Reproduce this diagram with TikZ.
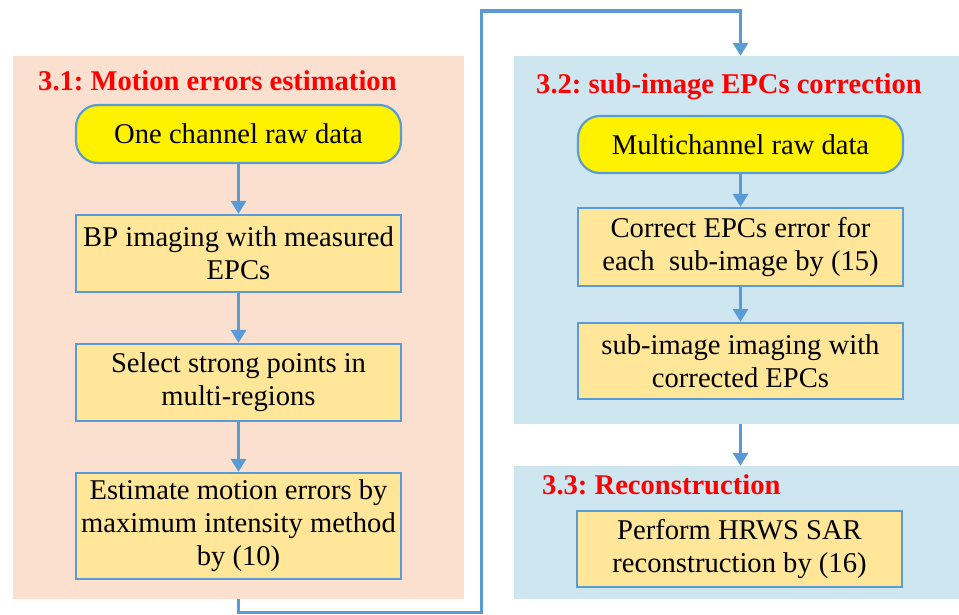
\documentclass[tikz,border=0pt]{standalone}
\usepackage{fontspec}
\setmainfont{Liberation Serif}[Ligatures=TeX]
\newfontfamily\tnr{Liberation Serif}
\usetikzlibrary{arrows.meta,fit,backgrounds}
\definecolor{peach}{HTML}{FBE0CF}
\definecolor{lblue}{HTML}{CDE6F0}
\definecolor{boxfill}{HTML}{FFE699}
\definecolor{edgeblue}{HTML}{5B9BD5}
\definecolor{titlered}{HTML}{FF0000}
\frenchspacing
\begin{document}
\begin{tikzpicture}[x=1pt,y=-1pt,
  font=\tnr\fontsize{28.6}{33}\selectfont,
  proc/.style={draw=edgeblue, line width=2.2pt, fill=boxfill, minimum width=325pt, align=center, inner sep=0pt},
  term/.style={draw=edgeblue, line width=2.2pt, fill=yellow, rounded corners=22pt, minimum width=325pt, inner sep=0pt},
  panel/.style={inner sep=0pt, draw=none},
  ttl/.style={text=titlered, font=\tnr\fontsize{28.6}{33}\selectfont\bfseries, anchor=base west, inner sep=0pt},
  flow/.style={draw=edgeblue, line width=3.5pt, -{Triangle[width=15pt,length=13pt]}}]
\useasboundingbox (0,0) rectangle (959,614);

% panels
\node[panel, fill=peach, fit={(12.5,56) (464,599)}] (P1) {};
\node[panel, fill=lblue, fit={(514,56) (959,424)}] (P2) {};
\node[panel, fill=lblue, fit={(514,466) (959,599)}] (P3) {};

% titles
\node[ttl] (T1) at (38,90) {3.1: Motion errors estimation};
\node[ttl] (T2) at (536,93) {3.2: sub-image EPCs correction};
\node[ttl] (T3) at (542,494) {3.3: Reconstruction};

% left column
\node[term, minimum height=58pt] (Y1) at (238.5,134) {One channel raw data};
\node[proc, minimum height=77pt] (B2) at (238.5,253.5) {BP imaging with measured\\EPCs};
\node[proc, minimum height=77pt] (B3) at (238.5,382.5) {Select strong points in\\multi-regions};
\node[proc, minimum height=106pt] (B4) at (238.5,526) {Estimate motion errors by\\maximum intensity method\\by (10)};

% right column
\node[term, minimum height=57pt] (Y2) at (740.5,144.5) {Multichannel raw data};
\node[proc, minimum height=78pt] (B6) at (740.5,247) {Correct EPCs error for\\each\ \ sub-image by (15)};
\node[proc, minimum height=76pt] (B7) at (740.5,361) {sub-image imaging with\\corrected EPCs};
\node[proc, minimum height=76pt] (B8) at (739.5,549) {Perform HRWS SAR\\reconstruction by (16)};

% arrows
\draw[flow] (Y1) -- (B2);
\draw[flow] (B2) -- (B3);
\draw[flow] (B3) -- (B4);
\draw[flow] (Y2) -- (B6);
\draw[flow] (B6) -- (B7);
\draw[flow] (P2.south -| B7) -- (P3.north -| B7);

% feedback connector (behind the panels)
\coordinate (c1) at (238.5,612.5);
\coordinate (c2) at (481.5,11);
\begin{pgfonlayer}{background}
\draw[flow] (B4.south) -- (c1) -| (c2) -| (Y2 |- P2.north);
\end{pgfonlayer}
\end{tikzpicture}
\end{document}
